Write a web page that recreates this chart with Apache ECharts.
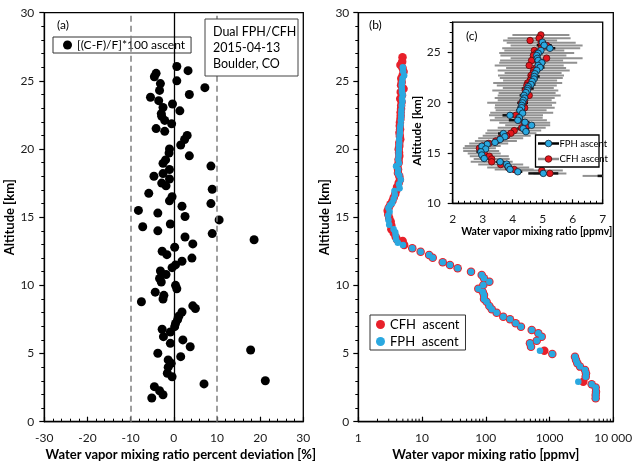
<!DOCTYPE html>
<html><head><meta charset="utf-8">
<script src="https://cdn.jsdelivr.net/npm/echarts@6/dist/echarts.min.js"></script>
<style>html,body{margin:0;padding:0;background:#fff}#c{width:639px;height:468px}</style>
</head><body><div id="c"></div>
<script>
// ---------- Panel (a): percent deviation [(C-F)/F]*100 ----------
const aAlt = [26.05,25.75,25.55,25.3,25.0,24.8,24.5,24.3,24.0,23.8,23.55,23.3,23.05,22.8,22.6,22.4,22.1,21.85,21.5,21.3,21.0,20.7,20.3,20.0,19.7,19.5,19.2,18.95,18.75,18.5,18.2,18.0,17.8,17.5,17.3,17.05,16.75,16.5,16.2,16.0,15.8,15.5,15.3,15.05,14.8,14.5,14.3,14.0,13.8,13.55,13.35,13.04,12.8,12.5,12.25,12.0,11.77,11.5,11.3,11.05,10.8,10.5,10.25,10.0,9.75,9.5,9.27,9.0,8.8,8.5,8.3,8.05,7.75,7.5,7.2,6.97,6.78,6.58,6.24,6.0,5.75,5.5,5.26,5.02,4.77,4.53,4.28,4.0,3.55,3.3,3.0,2.77,2.57,2.27,1.98,1.74];
const aDev = [0.7,3.3,-4.1,-4.5,0.7,-3.1,7.2,-3.3,3.6,-5.4,-3.5,-0.3,-2.5,1.4,-2.9,-2.8,-2.1,-0.5,-4.1,-2.1,3.1,2.5,1.6,-1.0,-1.1,3.6,-1.9,-2.5,8.6,-1.0,-2.5,-4.6,-1.0,-2.8,-1.8,8.9,-5.8,-0.4,-1.0,8.6,1.9,-8.2,-3.7,2.6,10.5,-0.8,-7.2,-3.7,8.9,2.6,18.6,4.4,0.2,-2.7,-1.6,4.2,1.9,0.4,-0.4,-3.1,-1.8,-3.3,-2.9,0.4,0.7,-4.3,-2.3,-2.5,-7.5,4.4,5.0,1.9,1.2,0.9,0.4,0.2,-2.7,-0.8,-2.4,2.1,-0.8,3.8,17.8,-3.7,1.6,-1.3,-0.6,-1.3,-1.5,-0.4,21.2,7.0,-4.5,-3.3,-2.5,-5.1];
const aRefLines = [-10, 0, 10];

// ---------- Upper profile (13-27 km), used in (b) and inset (c) ----------
const cfhAltUp = [26.73,26.40,26.17,25.94,25.67,25.40,25.18,24.92,24.68,24.42,24.19,23.95,23.69,23.45,23.20,22.95,22.70,22.45,22.20,21.95,21.70,21.45,21.20,20.95,20.72,20.47,20.23,19.98,19.73,19.48,19.24,19.00,18.75,18.50,18.25,18.00,17.75,17.50,17.22,16.96,16.70,16.45,16.20,15.95,15.70,15.47,15.20,14.95,14.68,14.40,14.12,13.85,13.56,13.36,13.26,12.97,12.72];
const cfhValUp = [4.94,4.88,4.58,4.95,5.13,4.95,4.72,4.80,4.69,5.13,4.63,4.85,4.55,4.78,4.70,4.68,4.61,4.62,4.58,4.50,4.47,4.52,4.42,4.48,4.55,4.40,4.40,4.30,4.36,4.40,4.28,4.30,4.11,4.20,4.19,4.40,4.50,4.30,4.05,3.94,3.80,3.60,3.44,3.20,3.00,2.89,2.95,3.05,3.22,3.30,3.30,3.60,3.85,4.05,4.97,5.24,7.03];
const cfhErrUp = [0.95,1.05,0.9,1.15,1.2,1.3,1.0,1.25,1.1,1.2,1.05,1.3,1.15,1.0,1.2,0.95,1.1,1.05,0.9,1.15,1.0,0.85,1.1,0.95,1.05,1.0,0.9,1.15,0.95,1.0,0.85,1.05,0.9,0.8,0.95,0.85,0.75,0.8,0.9,0.85,0.8,0.75,0.7,0.65,0.6,0.55,0.6,0.55,0.65,0.6,0.7,0.75,0.7,0.65,0.7,0.55,0.7];
const fphAltUp = [26.00,25.70,25.40,25.18,24.90,24.68,24.40,24.19,23.96,23.70,23.50,23.20,22.87,22.60,22.35,22.10,21.80,21.60,21.40,21.20,21.00,20.72,20.45,20.23,19.98,19.73,19.50,19.24,18.95,18.74,18.50,18.25,18.05,17.75,17.42,17.12,16.93,16.62,16.34,16.05,15.87,15.67,15.40,15.12,14.80,14.45,14.12,13.90,13.65,13.37,13.13,12.97,12.72];
const fphValUp = [4.99,5.05,5.24,4.94,4.85,4.80,4.82,4.85,4.97,4.85,4.91,4.80,4.74,4.72,4.71,4.65,4.61,4.52,4.50,4.49,4.44,4.38,4.40,4.35,4.33,4.30,4.30,4.24,4.33,3.91,4.22,4.17,4.41,4.63,4.35,4.44,3.69,3.74,3.58,3.41,3.15,2.97,3.10,2.94,2.97,3.05,3.58,3.80,3.85,3.91,4.17,5.02,7.03];
const fphErrUp = [0.12,0.25,0.18,0.1,0.15,0.12,0.1,0.2,0.12,0.1,0.15,0.12,0.1,0.18,0.12,0.1,0.15,0.12,0.2,0.1,0.12,0.15,0.1,0.12,0.18,0.1,0.15,0.12,0.1,0.25,0.12,0.3,0.15,0.1,0.2,0.12,0.18,0.1,0.12,0.15,0.1,0.12,0.1,0.15,0.1,0.12,0.15,0.1,0.12,0.1,0.15,0.5,0.2];

// ---------- Lower profile (below 12.7 km), panel (b) ----------
const altLow = [12.47,12.23,12.03,11.7,11.5,11.25,11.0,10.76,10.52,10.27,10.03,9.76,9.54,9.3,9.0,8.8,8.49,8.25,8.0,7.7,7.51,7.22,6.97,6.73,6.49,6.24,5.94,5.75,5.5,5.21,4.97,4.77,4.53,4.28,4.04,3.79,3.55,3.3,2.93,2.74,2.5,2.2,1.96,1.72];
const cfhLow = [9.5,12.9,14.7,21.1,27.4,36.2,58.6,86.2,93.7,113.6,91.4,76.3,89.4,93.7,93.7,103,113.6,124,148,188,240,294,356,525,667,753,629,493,512,828,1105,2506,2600,2725,3005,3600,3730,3690,3380,4580,5290,5350,5290,5290];
const fphLow = [9.5,12.9,14.7,21.1,27.4,36.2,58.6,86.2,93.7,113.6,91.4,76.3,89.4,93.7,93.7,103,113.6,124,148,188,240,294,356,525,667,753,629,493,512,708,1105,2506,2600,2725,3005,3600,3730,3690,2825,4580,5290,5350,5290,5290];

// tick positions for the log axis minor ticks
const logMinorTicks = [2,3,4,5,6,7,8,9,20,30,40,50,60,70,80,90,200,300,400,500,600,700,800,900,2000,3000,4000,5000,6000,7000,8000,9000];
const insetYMajor = [10, 15, 20, 25];

const FONT = 'Lato, "Open Sans", sans-serif';
const TXT = '#1a1a1a';
const RED = '#e8202a', BLUE = '#2aa8e0';

const pairs = (xs, ys) => xs.map((x, i) => [x, ys[i]]);
const triples = (xs, ys, es) => xs.map((x, i) => [x, ys[i], es[i]]);

function errBar(color, width) {
  return function (params, api) {
    const v = api.value(0), a = api.value(1), e = api.value(2);
    const p1 = api.coord([v - e, a]);
    const p2 = api.coord([v + e, a]);
    const cs = params.coordSys;
    const x1 = Math.max(cs.x, Math.min(cs.x + cs.width, p1[0]));
    const x2 = Math.max(cs.x, Math.min(cs.x + cs.width, p2[0]));
    if (x2 <= x1) return null;
    return { type: 'line', shape: { x1: x1, y1: p1[1], x2: x2, y2: p2[1] },
             style: { stroke: color, lineWidth: width } };
  };
}
function minorLogTick(params, api) {
  const p = api.coord([api.value(0), 0]);
  return { type: 'line', shape: { x1: p[0], y1: p[1], x2: p[0], y2: p[1] - 3 },
           style: { stroke: '#000', lineWidth: 1 } };
}

function axisCommon(o) {
  return Object.assign({
    axisLine: { onZero: false, lineStyle: { color: '#000', width: 1.3 } },
    splitLine: { show: false },
    minorSplitLine: { show: false },
    axisLabel: { color: TXT, fontSize: 12, fontFamily: FONT, margin: 10 },
    nameLocation: 'middle',
    nameTextStyle: { fontWeight: 'bold', fontSize: 13, color: '#000', fontFamily: FONT }
  }, o);
}

const chart = echarts.init(document.getElementById('c'), null, { renderer: 'canvas' });
const option = {
  animation: false,
  backgroundColor: '#fff',
  grid: [
    { left: 44.3, top: 12.7, width: 259, height: 409, show: true, borderColor: '#000', borderWidth: 1.3, backgroundColor: 'transparent' },
    { left: 358.3, top: 12.7, width: 255, height: 409, show: true, borderColor: '#000', borderWidth: 1.3, backgroundColor: 'transparent' },
    { left: 452.7, top: 22.1, width: 150, height: 181.2, show: true, borderColor: '#000', borderWidth: 1.3, backgroundColor: '#fff' }
  ],
  xAxis: [
    axisCommon({ gridIndex: 0, type: 'value', min: -30, max: 30, interval: 10,
      axisTick: { inside: true, length: 5, lineStyle: { color: '#000', width: 1.2 } },
      minorTick: { show: true, splitNumber: 5, length: 3, lineStyle: { color: '#000', width: 1 } },
      name: 'Water vapor mixing ratio percent deviation [%]', nameGap: 24,
      nameTextStyle: { fontWeight: 'bold', fontSize: 13, color: '#000', fontFamily: FONT, padding: [0, 0, 0, 14] } }),
    axisCommon({ gridIndex: 1, type: 'log', logBase: 10, min: 1, max: 10000,
      axisTick: { inside: true, length: 5, lineStyle: { color: '#000', width: 1.2 } },
      axisLabel: { color: TXT, fontSize: 12, fontFamily: FONT, margin: 10,
        formatter: v => { const r = Math.round(v); return r >= 10000 ? '10 000' : String(r); } },
      name: 'Water vapor mixing ratio [ppmv]', nameGap: 24 }),
    axisCommon({ gridIndex: 2, type: 'value', min: 2, max: 7, interval: 1,
      axisTick: { inside: true, length: 4, lineStyle: { color: '#000', width: 1.2 } },
      minorTick: { show: true, splitNumber: 5, length: 2.5, lineStyle: { color: '#000', width: 1 } },
      axisLabel: { color: TXT, fontSize: 12, fontFamily: FONT, margin: 10 },
      name: 'Water vapor mixing ratio [ppmv]', nameGap: 22,
      nameTextStyle: { fontWeight: 'bold', fontSize: 10.5, color: '#000', fontFamily: FONT, padding: [0, 0, 0, 18] } })
  ],
  yAxis: [
    axisCommon({ gridIndex: 0, type: 'value', min: 0, max: 30, interval: 5,
      axisTick: { inside: false, length: 5, lineStyle: { color: '#000', width: 1.2 } },
      minorTick: { show: true, splitNumber: 5, length: 3, lineStyle: { color: '#000', width: 1 } },
      name: 'Altitude [km]', nameGap: 27 }),
    axisCommon({ gridIndex: 1, type: 'value', min: 0, max: 30, interval: 5,
      axisTick: { inside: false, length: 5, lineStyle: { color: '#000', width: 1.2 } },
      minorTick: { show: true, splitNumber: 5, length: 3, lineStyle: { color: '#000', width: 1 } },
      axisLabel: { color: TXT, fontSize: 12, fontFamily: FONT, margin: 9 },
      name: 'Altitude [km]', nameGap: 25 }),
    axisCommon({ gridIndex: 2, type: 'value', min: 10, max: 28, interval: 1,
      axisTick: { inside: false, length: 3, lineStyle: { color: '#000', width: 1 } },
      axisLabel: { color: TXT, fontSize: 12, fontFamily: FONT, margin: 12,
        formatter: v => (insetYMajor.indexOf(v) >= 0 ? String(v) : '') },
      name: 'Altitude [km]', nameGap: 26,
      nameTextStyle: { fontWeight: 'bold', fontSize: 12, color: '#000', fontFamily: FONT, padding: [0, 36, 0, 0] } }),
    { gridIndex: 2, type: 'value', min: 10, max: 28, position: 'left',
      axisLine: { show: false }, splitLine: { show: false },
      axisLabel: { show: false },
      axisTick: { show: true, inside: false, length: 5, customValues: insetYMajor, lineStyle: { color: '#000', width: 1.2 } } }
  ],
  legend: [
    { data: ['[(C-F)/F]*100 ascent'], left: 53, top: 37, orient: 'vertical', selectedMode: false,
      icon: 'circle', itemWidth: 9, itemHeight: 9, itemGap: 4, padding: [2, 6, 2, 10],
      borderColor: '#333', borderWidth: 1, backgroundColor: '#fff',
      textStyle: { fontSize: 12, color: '#000', fontFamily: FONT } },
    { data: ['CFH  ascent', 'FPH  ascent'], left: 370, top: 315, orient: 'vertical', selectedMode: false,
      icon: 'circle', itemWidth: 9, itemHeight: 9, itemGap: 4, padding: [3, 6, 2, 6],
      borderColor: '#333', borderWidth: 1, backgroundColor: '#fff',
      textStyle: { fontSize: 13, color: '#000', fontFamily: FONT } }
  ],
  series: [
    { name: '[(C-F)/F]*100 ascent', type: 'scatter', xAxisIndex: 0, yAxisIndex: 0,
      data: pairs(aDev, aAlt), symbolSize: 9, itemStyle: { color: '#000', opacity: 1 }, z: 3,
      markLine: { silent: true, symbol: 'none', label: { show: false },
        data: aRefLines.map(v => ({ xAxis: v, lineStyle: v === 0
          ? { color: '#000', width: 1.3, type: 'solid' }
          : { color: '#808080', width: 1.5, type: [6, 4] } })) } },
    { name: 'CFH  ascent', type: 'scatter', xAxisIndex: 1, yAxisIndex: 1,
      data: pairs(cfhValUp.concat(cfhLow), cfhAltUp.concat(altLow)),
      symbolSize: 8.5, itemStyle: { color: RED, opacity: 1 }, z: 3 },
    { name: 'FPH  ascent', type: 'scatter', xAxisIndex: 1, yAxisIndex: 1,
      data: pairs(fphValUp.concat(fphLow), fphAltUp.concat(altLow)),
      symbolSize: 6.5, itemStyle: { color: BLUE, opacity: 1 }, z: 4 },
    { type: 'custom', xAxisIndex: 1, yAxisIndex: 1, silent: true,
      data: logMinorTicks.map(v => [v, 0]), renderItem: minorLogTick, z: 2 },
    { type: 'custom', name: 'CFH err', xAxisIndex: 2, yAxisIndex: 2, silent: true,
      encode: { x: 0, y: 1 }, data: triples(cfhValUp, cfhAltUp, cfhErrUp),
      renderItem: errBar('#919191', 2), z: 3 },
    { type: 'custom', name: 'FPH err', xAxisIndex: 2, yAxisIndex: 2, silent: true,
      encode: { x: 0, y: 1 }, data: triples(fphValUp, fphAltUp, fphErrUp),
      renderItem: errBar('#111', 2.5), z: 4 },
    { name: 'CFH ascent', type: 'scatter', xAxisIndex: 2, yAxisIndex: 2, clip: true,
      data: pairs(cfhValUp, cfhAltUp), symbolSize: 6.5,
      itemStyle: { color: '#e3161d', borderColor: '#5a0a0a', borderWidth: 0.8, opacity: 1 }, z: 5 },
    { name: 'FPH ascent', type: 'scatter', xAxisIndex: 2, yAxisIndex: 2, clip: true,
      data: pairs(fphValUp, fphAltUp), symbolSize: 6.5,
      itemStyle: { color: BLUE, borderColor: '#123', borderWidth: 0.8, opacity: 1 }, z: 6 }
  ],
  graphic: [
    { type: 'text', x: 57, y: 19, style: { text: '(a)', fontSize: 12, fontFamily: FONT, fill: '#000' } },
    { type: 'text', x: 369, y: 19, style: { text: '(b)', fontSize: 12, fontFamily: FONT, fill: '#000' } },
    { type: 'text', x: 466, y: 30, z: 10, style: { text: '(c)', fontSize: 12, fontFamily: FONT, fill: '#000' } },
    { type: 'rect', z: 10, shape: { x: 205, y: 19, width: 93, height: 57 },
      style: { fill: '#fff', stroke: '#444', lineWidth: 1 } },
    { type: 'text', z: 11, x: 213, y: 25, style: { text: 'Dual FPH/CFH', fontSize: 12.5, fontFamily: FONT, fill: '#000' } },
    { type: 'text', z: 11, x: 213, y: 41, style: { text: '2015-04-13', fontSize: 12.5, fontFamily: FONT, fill: '#000' } },
    { type: 'text', z: 11, x: 213, y: 57, style: { text: 'Boulder, CO', fontSize: 12.5, fontFamily: FONT, fill: '#000' } },
    { type: 'rect', z: 20, shape: { x: 535.5, y: 135, width: 63.5, height: 32 },
      style: { fill: '#fff', stroke: '#000', lineWidth: 1.3 } },
    { type: 'line', z: 21, shape: { x1: 538, y1: 143.5, x2: 559, y2: 143.5 }, style: { stroke: '#000', lineWidth: 2.5 } },
    { type: 'circle', z: 22, shape: { cx: 548.5, cy: 143.5, r: 3.3 }, style: { fill: BLUE, stroke: '#123', lineWidth: 0.8 } },
    { type: 'text', z: 22, x: 559.5, y: 143.5, style: { text: 'FPH ascent', fontSize: 9.5, fontFamily: FONT, fill: '#000', verticalAlign: 'middle' } },
    { type: 'line', z: 21, shape: { x1: 538, y1: 159, x2: 559, y2: 159 }, style: { stroke: '#8c8c8c', lineWidth: 2.5 } },
    { type: 'circle', z: 22, shape: { cx: 548.5, cy: 159, r: 3.3 }, style: { fill: '#e3161d', stroke: '#5a0a0a', lineWidth: 0.8 } },
    { type: 'text', z: 22, x: 559.5, y: 159, style: { text: 'CFH ascent', fontSize: 9.5, fontFamily: FONT, fill: '#000', verticalAlign: 'middle' } }
  ]
};
chart.setOption(option);
</script></body></html>
